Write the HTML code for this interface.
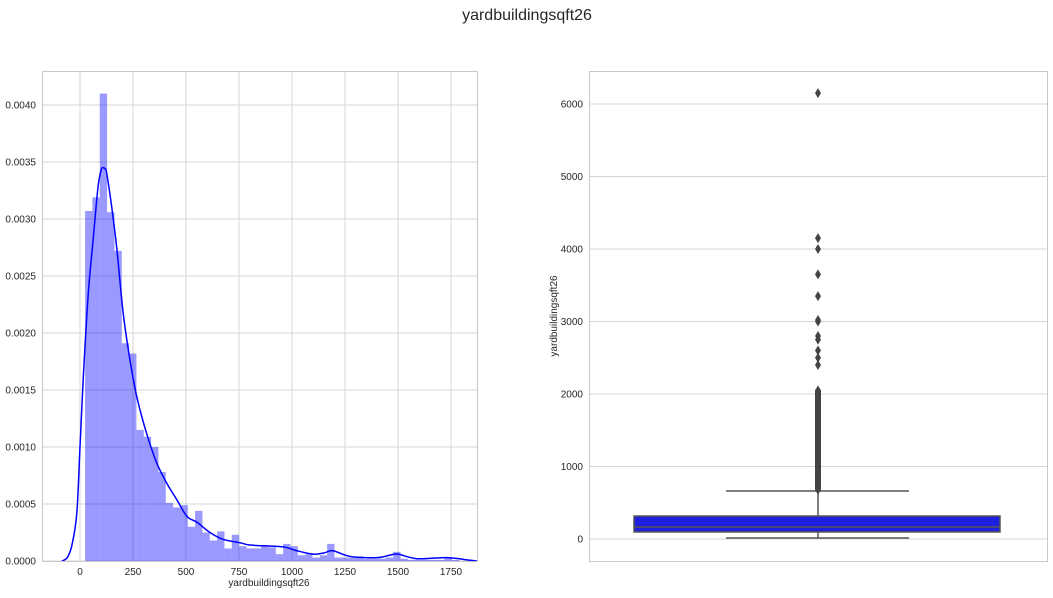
<!DOCTYPE html>
<html><head><meta charset="utf-8"><style>
body{margin:0;background:#fff;}
svg text{font-family:"Liberation Sans",sans-serif;fill:#262626;}
</style></head><body>
<svg id="c" width="1053" height="593" xmlns="http://www.w3.org/2000/svg">
<text x="527" y="20" font-size="16" text-anchor="middle">yardbuildingsqft26</text>
<g id="L"></g>
<g id="R"></g>
</svg>
<script>
const histStart = 24, histBinWidth = 34.6;
const histHeights = [0.00307,0.00319,0.0041,0.00306,0.00272,0.00191,0.00182,0.00115,0.00109,0.001,0.00078,0.00051,0.00047,0.00049,0.0003,0.00044,0.00025,0.00018,0.00026,0.00011,0.00023,0.00013,0.00011,0.00011,0.00013,0.00012,0.00006,0.00015,0.00013,0.00005,0.00006,0.00003,0.00005,0.00015,0.00003,0.00003,0.00003,0.00004,0.00002,0.00002,0.00002,0.00003,0.00008,0.00002,0.00001,0.00001,0.00001,0.00001,0.00001,0.00003,0.00001];
const kdeX = [-85,-60,-38,-15,0,15,38,62,85,100,108,118,126,150,173,204,236,268,314,362,410,456,505,552,613,675,755,802,910,970,1023,1099,1150,1193,1274,1401,1460,1500,1590,1731,1825,1872];
const kdeY = [0,0.00003,0.00014,0.00042,0.001,0.00159,0.00232,0.00282,0.00328,0.00343,0.00345,0.00344,0.0034,0.0031,0.00275,0.00217,0.00176,0.00144,0.00112,0.00086,0.00068,0.00054,0.00039,0.00034,0.00025,0.00019,0.00016,0.00014,0.00013,0.00012,0.00009,0.00006,0.00007,0.00009,0.00004,0.00003,0.00005,0.00006,0.00002,0.00003,0.00001,0];
const xTicks = [0,250,500,750,1000,1250,1500,1750];
const yTicks = [0,0.0005,0.001,0.0015,0.002,0.0025,0.003,0.0035,0.004];
const boxStats = [14,97,166,317,662]; // whiskerLow,q1,median,q3,whiskerHigh
const outliers = [680,720,760,800,850,900,950,1000,1050,1100,1150,1200,1250,1300,1350,1400,1450,1500,1550,1600,1650,1700,1750,1800,1850,1900,1950,2000,2050,2400,2500,2600,2750,2800,3000,3020,3350,3650,4000,4150,6150];
const bTicks = [0,1000,2000,3000,4000,5000,6000];

const NS="http://www.w3.org/2000/svg";
function mk(p,t,a){const e=document.createElementNS(NS,t);for(const k in a)e.setAttribute(k,a[k]);p.appendChild(e);return e;}
const L=document.getElementById('L'), R=document.getElementById('R');
const lx0=42,lx1=477,ly0=71,ly1=561;
const xs=v=>80+v*0.212, ys=v=>561-v*114000;
for(const t of xTicks){const g=mk(L,'line',{x1:xs(t),x2:xs(t),y1:ly0,y2:ly1,stroke:'#d5d5d5'});


const tx=mk(L,'text',{x:xs(t),y:575,'font-size':10,'text-anchor':'middle'});tx.textContent=t;

}
for(const t of yTicks){const g=mk(L,'line',{x1:lx0,x2:lx1,y1:ys(t),y2:ys(t),stroke:'#d5d5d5'});


const tx=mk(L,'text',{x:36,y:ys(t)+3.5,'font-size':10,'text-anchor':'end'});tx.textContent=t.toFixed(4);

}
histHeights.forEach((h,i)=>{const a=histStart+i*histBinWidth;
const r=mk(L,'rect',{x:xs(a),y:ys(h),width:xs(a+histBinWidth)-xs(a),height:ys(0)-ys(h),fill:'#0000ff','fill-opacity':0.4});

});
// smooth KDE via Catmull-Rom
const P=kdeX.map((x,i)=>[xs(x),ys(kdeY[i])]);
let d=`M${P[0][0]},${P[0][1]}`;
for(let i=0;i<P.length-1;i++){const p0=P[Math.max(0,i-1)],p1=P[i],p2=P[i+1],p3=P[Math.min(P.length-1,i+2)];
const c1=[p1[0]+(p2[0]-p0[0])/6,p1[1]+(p2[1]-p0[1])/6],c2=[p2[0]-(p3[0]-p1[0])/6,p2[1]-(p3[1]-p1[1])/6];
d+=` C${c1[0]},${c1[1]} ${c2[0]},${c2[1]} ${p2[0]},${p2[1]}`;}
const kp=mk(L,'path',{d:d,fill:'none',stroke:'#0000ff','stroke-width':1.5,'stroke-linejoin':'round'});


const lb=mk(L,'rect',{x:lx0+0.5,y:ly0+0.5,width:lx1-lx0,height:ly1-ly0,fill:'none',stroke:'#c8c8c8'});


const xl=mk(L,'text',{x:269,y:586,'font-size':10,'text-anchor':'middle'});xl.textContent='yardbuildingsqft26';



const rx0=589,rx1=1047,by=v=>539-v*0.0725;
for(const t of bTicks){const g=mk(R,'line',{x1:rx0,x2:rx1,y1:by(t),y2:by(t),stroke:'#d5d5d5'});


const tx=mk(R,'text',{x:583,y:by(t)+3.5,'font-size':10,'text-anchor':'end'});tx.textContent=t;

}
const rb=mk(R,'rect',{x:rx0+0.5,y:71.5,width:rx1-rx0,height:490,fill:'none',stroke:'#c8c8c8'});


const yl=mk(R,'text',{x:0,y:0,'font-size':10,'text-anchor':'middle',transform:'translate(557,316) rotate(-90)'});yl.textContent='yardbuildingsqft26';


const cx=818,gc='#555';
const w1=mk(R,'line',{x1:cx,x2:cx,y1:by(boxStats[3]),y2:by(boxStats[4]),stroke:gc,'stroke-width':1.5});


const w2=mk(R,'line',{x1:cx,x2:cx,y1:by(boxStats[1]),y2:by(boxStats[0]),stroke:gc,'stroke-width':1.5});


const c1=mk(R,'line',{x1:726,x2:909,y1:by(boxStats[4]),y2:by(boxStats[4]),stroke:gc,'stroke-width':1.5});


const c2=mk(R,'line',{x1:726,x2:909,y1:by(boxStats[0]),y2:by(boxStats[0]),stroke:gc,'stroke-width':1.5});


const bx=mk(R,'rect',{x:634,y:by(boxStats[3]),width:366,height:by(boxStats[1])-by(boxStats[3]),fill:'#1f1fe0',stroke:gc,'stroke-width':1.5});


const md=mk(R,'line',{x1:634,x2:1000,y1:by(boxStats[2]),y2:by(boxStats[2]),stroke:gc,'stroke-width':1.5});


for(const o of outliers){const y=by(o);
const p=mk(R,'polygon',{points:`${cx},${y-5} ${cx+3},${y} ${cx},${y+5} ${cx-3},${y}`,fill:'#444'});

}
const dense=mk(R,'rect',{x:cx-3,y:by(2050),width:6,height:by(680)-by(2050),fill:'#444'});


</script>
</body></html>
